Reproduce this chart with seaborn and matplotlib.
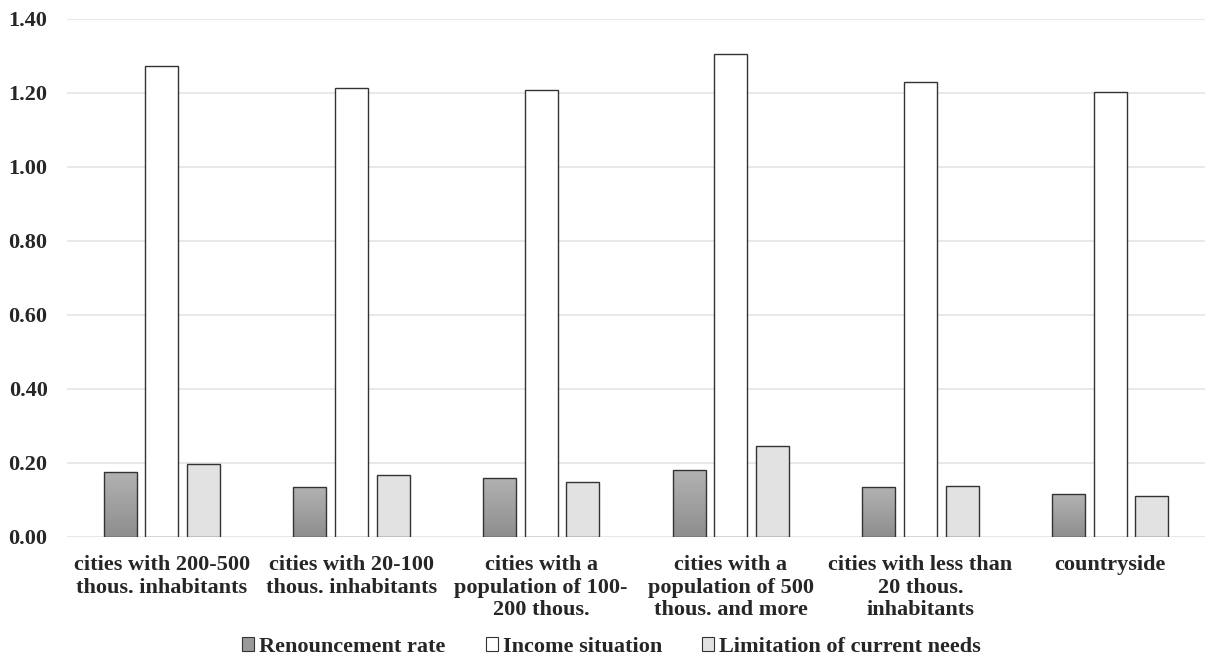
"""Renouncement rate, income situation and limitation of current needs by place of residence."""

import matplotlib

matplotlib.use("Agg")
import matplotlib.pyplot as plt  # noqa: E402
import numpy as np  # noqa: E402
import pandas as pd  # noqa: E402
import seaborn as sns  # noqa: E402

categories = [
    "cities with 200-500\nthous. inhabitants",
    "cities with 20-100\nthous. inhabitants",
    "cities with a\npopulation of 100-\n200 thous.",
    "cities with a\npopulation of 500\nthous. and more",
    "cities with less than\n20 thous.\ninhabitants",
    "countryside",
]
series = ["Renouncement rate", "Income situation", "Limitation of current needs"]
renouncement = [0.176, 0.135, 0.160, 0.181, 0.134, 0.116]
income = [1.273, 1.213, 1.208, 1.305, 1.231, 1.202]
limitation = [0.198, 0.168, 0.149, 0.246, 0.137, 0.111]

colors = ["#a0a0a0", "#ffffff", "#e2e2e2"]

df = pd.DataFrame(
    {
        "category": categories * 3,
        "series": np.repeat(series, len(categories)),
        "value": renouncement + income + limitation,
    }
)

sns.set_style("white")
plt.rcParams["font.family"] = ["Liberation Serif", "DejaVu Serif"]
plt.rcParams["font.weight"] = "bold"

fig = plt.figure(figsize=(12.07, 6.6), dpi=100)
ax = fig.add_axes([67 / 1207, 1 - 537 / 660, 1 - 67 / 1207 - 2 / 1207, (537 - 19) / 660])

sns.barplot(
    data=df,
    x="category",
    y="value",
    hue="series",
    hue_order=series,
    order=categories,
    palette=colors,
    width=0.66,
    gap=0.21,
    edgecolor="#333333",
    linewidth=1.0,
    legend=False,
    ax=ax,
    zorder=3,
)

# gradient fill for the first series
grad = np.linspace(0, 1, 100).reshape(-1, 1)
cmap = matplotlib.colors.LinearSegmentedColormap.from_list("g", ["#8e8e8e", "#b2b2b2"])
for patch in ax.patches[: len(categories)]:
    x0, y0 = patch.get_x(), patch.get_y()
    w, h = patch.get_width(), patch.get_height()
    im = ax.imshow(
        grad,
        extent=[x0, x0 + w, y0, y0 + h],
        origin="lower",
        cmap=cmap,
        aspect="auto",
        zorder=3.5,
    )
    im.set_clip_path(patch)
    patch.set_zorder(4)
    patch.set_facecolor("none")

ax.set_xlim(-0.5, len(categories) - 0.5)
ax.set_ylim(0, 1.4)
ax.set_yticks(np.arange(0, 1.41, 0.2))
ax.set_yticklabels([f"{v:.2f}" for v in np.arange(0, 1.41, 0.2)])
ax.yaxis.grid(True, color="#e4e4e4", linewidth=1.2, zorder=0)
ax.set_axisbelow(True)
for s in ax.spines.values():
    s.set_visible(False)
ax.tick_params(axis="both", length=0, labelsize=16)
ax.tick_params(axis="y", pad=14)
ax.tick_params(axis="x", pad=13)
for lbl in ax.get_xticklabels():
    lbl.set_linespacing(1.18)
ax.set_xlabel("")
ax.set_ylabel("")

handles = [
    matplotlib.patches.Patch(facecolor=c, edgecolor="#333333", linewidth=0.8, label=s)
    for c, s in zip(["#9a9a9a", "#ffffff", "#e2e2e2"], series)
]
fig.legend(
    handles=handles,
    loc="center",
    bbox_to_anchor=(611.5 / 1207, 1 - 647 / 660),
    ncol=3,
    frameon=False,
    fontsize=16,
    handlelength=0.55,
    handleheight=0.55,
    handletextpad=0.22,
    columnspacing=1.8,
)

fig.savefig("out.png", dpi=100)
